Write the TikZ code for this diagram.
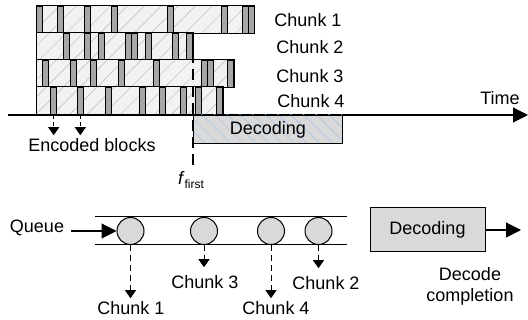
\documentclass[tikz,border=0pt]{standalone}
\usepackage{fontspec}
\setmainfont{Liberation Sans}
\usetikzlibrary{arrows.meta,patterns.meta}
\definecolor{blockfill}{HTML}{F2F2F2}
\definecolor{barfill}{HTML}{A6A6A6}
\definecolor{boxfill}{HTML}{D9D9D9}
\definecolor{hatchblue}{HTML}{A9C8E8}
\tikzset{
  lbl/.style={font=\fontsize{18}{21}\selectfont, inner sep=3pt},
  bigtip/.style={-{Triangle[length=15pt,width=15pt]}, line width=1.1pt},
  smalltip/.style={-{Triangle[length=8pt,width=11pt]}, line width=1pt},
  dashconn/.style={smalltip, dash pattern=on 6pt off 4pt},
  barbox/.style={fill=barfill, draw=black, line width=0.8pt},
  circ/.style={circle, draw, fill=boxfill, line width=1pt, minimum size=27pt, inner sep=0pt},
  decbox/.style={draw, line width=1pt, inner sep=0pt, font=\fontsize{18}{21}\selectfont}
}
\begin{document}
\begin{tikzpicture}[x=1pt,y=-1pt]
\useasboundingbox (0,0) rectangle (528,320);
% chunk rows
\foreach \t/\r/\bl in {6/254/{36.5,57,84,111.5,167,221,242,248},
                        33/193.3/{63.3,84,98.3,125,131.7,145,172.7,186.7},
                        60/234/{42.7,70,90.7,118.3,153.3,201,207.7,227.3},
                        87/223/{50.7,77.3,105,139.5,159.3,180.7,195,216.7}}{
  \fill[blockfill] (36,\t) rectangle (\r,\t+27.5);
  \fill[pattern={Lines[angle=45,distance=12pt,line width=0.45pt]}, pattern color=gray!55] (36,\t) rectangle (\r,\t+27.5);
  \foreach \b in \bl { \draw[barbox] (\b,\t) rectangle (\b+6,\t+27.5); }
  \draw[line width=1pt] (36,\t) rectangle (\r,\t+27.5);
}
\node[lbl] (ch1) at (308,20) {Chunk 1};
\node[lbl] (ch2) at (310,47) {Chunk 2};
\node[lbl] (ch3) at (310,76) {Chunk 3};
\node[lbl] (ch4) at (311,101) {Chunk 4};
% time axis
\coordinate (axL) at (8,115);
\coordinate (axR) at (528,115);
\draw[bigtip] (axL) -- (axR);
\node[lbl] (time) at (500,98) {Time};
% decoding box (top)
\fill[boxfill] (193,115) rectangle (342,143);
\fill[pattern={Lines[angle=-45,distance=9pt,line width=0.6pt]}, pattern color=hatchblue] (193,115) rectangle (342,143);
\node[decbox, minimum width=149pt, minimum height=28pt, anchor=north west] (dec1) at (193,115) {Decoding};
% f_first
\node[lbl] (ff) at (191,180) {\textit{f}\raisebox{-0.45ex}{\fontsize{12}{12}\selectfont first}};
\coordinate (ftop) at (193,35);
\draw[line width=1.4pt, dash pattern=on 11pt off 6pt] (ftop) -- (ff.north -| ftop);
% encoded blocks
\node[lbl] (enc) at (92,145) {Encoded blocks};
\coordinate (e1) at (53.7,115);
\coordinate (e2) at (80.3,115);
\draw[smalltip, dash pattern=on 4pt off 3pt] (e1) -- (e1 |- enc.north);
\draw[smalltip, dash pattern=on 4pt off 3pt] (e2) -- (e2 |- enc.north);
% queue
\draw[line width=1pt] (95,217) -- (347,217);
\draw[line width=1pt] (95,245) -- (347,245);
\node[circ] (c1) at (130.5,231) {};
\node[circ] (c2) at (204,231) {};
\node[circ] (c3) at (271,231) {};
\node[circ] (c4) at (318.5,231) {};
\node[lbl] (queue) at (37,227.5) {Queue};
\draw[bigtip, shorten <=4pt] (queue.east |- c1.west) -- (c1.west);
\node[lbl] (q1) at (131,308) {Chunk 1};
\node[lbl] (q3) at (205,282) {Chunk 3};
\node[lbl] (q4) at (276,308) {Chunk 4};
\node[lbl] (q2) at (326,283) {Chunk 2};
\draw[dashconn] (c1.south) -- (c1.south |- q1.north);
\draw[dashconn, shorten >=5pt] (c2.south) -- (c2.south |- q3.north);
\draw[dashconn] (c3.south) -- (c3.south |- q4.north);
\draw[dashconn, shorten >=5pt] (c4.south) -- (c4.south |- q2.north);
% decoding box (bottom)
\node[decbox, fill=boxfill, minimum width=115pt, minimum height=44pt] (dec2) at (427.5,230) {Decoding};
\coordinate (done) at (521,230);
\draw[bigtip] (dec2.east) -- (done);
\node[lbl, align=center] (dc) at (470,286.5) {Decode\\completion};
\end{tikzpicture}
\end{document}
